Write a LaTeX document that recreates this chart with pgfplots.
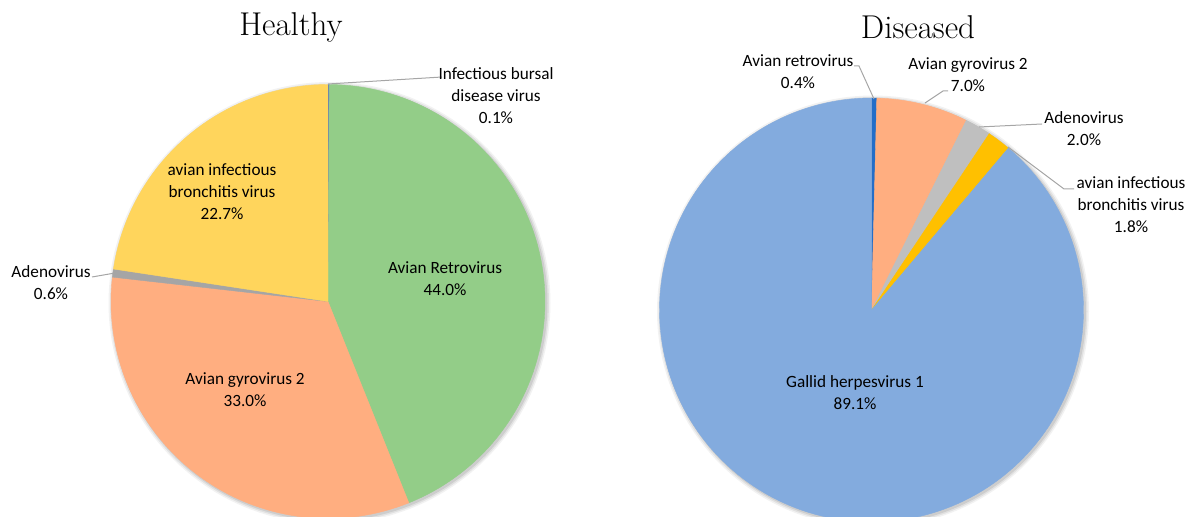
\documentclass[border=0pt]{standalone}
\usepackage{pgfplots}
\pgfplotsset{compat=1.18}
\usepackage{pgfplotstable}
\usepackage{fontspec}
\newfontfamily\labelfont{Carlito}

% slice colours
\definecolor{ibdv}{RGB}{68,114,196}
\definecolor{retroH}{RGB}{147,205,136}
\definecolor{gyro}{RGB}{255,174,128}
\definecolor{adenoH}{RGB}{165,165,165}
\definecolor{ibv}{RGB}{255,213,92}
\definecolor{retroD}{RGB}{35,110,200}
\definecolor{adenoD}{RGB}{191,191,191}
\definecolor{ibvD}{RGB}{255,192,0}
\definecolor{gallid}{RGB}{131,171,222}
\definecolor{leader}{RGB}{166,166,166}

% shares (%) in clockwise order from 12 o'clock
\pgfplotstableread{
share colour
0.1   ibdv
44.0  retroH
33.0  gyro
0.6   adenoH
22.7  ibv
}\healthy

\pgfplotstableread{
share colour
0.4   retroD
7.0   gyro
2.0   adenoD
1.8   ibvD
89.1  gallid
}\diseased

% \drawpie{table}{cx}{cy}{r}: slices normalised to the table total
\newcommand\drawpie[4]{%
  \pgfplotstablegetrowsof{#1}%
  \pgfmathtruncatemacro\lastrow{\pgfplotsretval-1}%
  \xdef\pietotal{0}%
  \foreach \i in {0,...,\lastrow}{%
    \pgfplotstablegetelem{\i}{share}\of{#1}%
    \pgfmathsetmacro\tmp{\pietotal+\pgfplotsretval}\xdef\pietotal{\tmp}}%
  % soft drop shadow
  \foreach \d/\op in {4/0.05,2.5/0.07,1/0.09}{%
    \edef\cmd{\noexpand\addplot[draw=none, fill=black, fill opacity=\op,
      domain=0:360, samples=180]
      ({#2+1.5+(#4+\d)*cos(x)},{#3+1.5+(#4+\d)*sin(x)}) -- cycle;}\cmd}%
  \xdef\pieacc{0}%
  \foreach \i in {0,...,\lastrow}{%
    \pgfplotstablegetelem{\i}{share}\of{#1}\let\sliceval\pgfplotsretval
    \pgfplotstablegetelem{\i}{colour}\of{#1}\let\slicecol\pgfplotsretval
    \pgfmathsetmacro\fracA{\pieacc/\pietotal}%
    \pgfmathsetmacro\fracB{(\pieacc+\sliceval)/\pietotal}%
    \pgfmathsetmacro\angA{-90+360*\fracA}%
    \pgfmathsetmacro\angB{-90+360*\fracB}%
    \pgfmathtruncatemacro\ns{max(4,2*\sliceval)}%
    \edef\cmd{\noexpand\addplot[draw=\slicecol, fill=\slicecol, line width=0.2pt,
      domain=\angA:\angB, samples=\ns]
      ({#2+#4*cos(x)},{#3+#4*sin(x)}) -- (axis cs:#2,#3) -- cycle;}\cmd
    \pgfmathsetmacro\tmp{\pieacc+\sliceval}\xdef\pieacc{\tmp}}%
}

\begin{document}
\begin{tikzpicture}
\begin{axis}[
  scale only axis, width=597pt, height=258.5pt,
  xmin=0, xmax=1194, ymin=0, ymax=517, y dir=reverse,
  hide axis, clip=true,
]
\drawpie{\healthy}{328}{301.5}{217}
\drawpie{\diseased}{871.5}{310}{212}

% leader lines
\addplot[leader, line width=0.5pt] coordinates {(328,84) (442,77)};
\addplot[leader, line width=0.5pt] coordinates {(92,277) (115,273)};
\addplot[leader, line width=0.5pt] coordinates {(854,66) (859,66) (874,99)};
\addplot[leader, line width=0.5pt] coordinates {(948,91) (943,91) (925,103)};
\addplot[leader, line width=0.5pt] coordinates {(1042,124) (979,127)};
\addplot[leader, line width=0.5pt] coordinates {(1074,189) (1064,189) (1008,147)};

% titles
\node[font=\fontsize{16.5}{19}\selectfont] at (axis cs:291,27) {Healthy};
\node[font=\fontsize{16.5}{19}\selectfont] at (axis cs:918,27) {Diseased};

% data labels
\begin{scope}[every node/.append style={align=center, font=\labelfont\fontsize{8.6}{11}\selectfont, inner sep=0pt}]
\node at (axis cs:496,96) {Infectious bursal\\disease virus\\0.1\%};
\node at (axis cs:222,192) {avian infectious\\bronchitis virus\\22.7\%};
\node at (axis cs:51,283) {Adenovirus\\0.6\%};
\node at (axis cs:445,279) {Avian Retrovirus\\44.0\%};
\node at (axis cs:245,390) {Avian gyrovirus 2\\33.0\%};
\node at (axis cs:798,72) {Avian retrovirus\\0.4\%};
\node at (axis cs:968,75) {Avian gyrovirus 2\\7.0\%};
\node at (axis cs:1084,129) {Adenovirus\\2.0\%};
\node at (axis cs:1131,205) {avian infectious\\bronchitis virus\\1.8\%};
\node at (axis cs:855,393) {Gallid herpesvirus 1\\89.1\%};
\end{scope}
\end{axis}
\pgfresetboundingbox
\useasboundingbox (current axis.south west) rectangle (current axis.north east);
\end{tikzpicture}
\end{document}
